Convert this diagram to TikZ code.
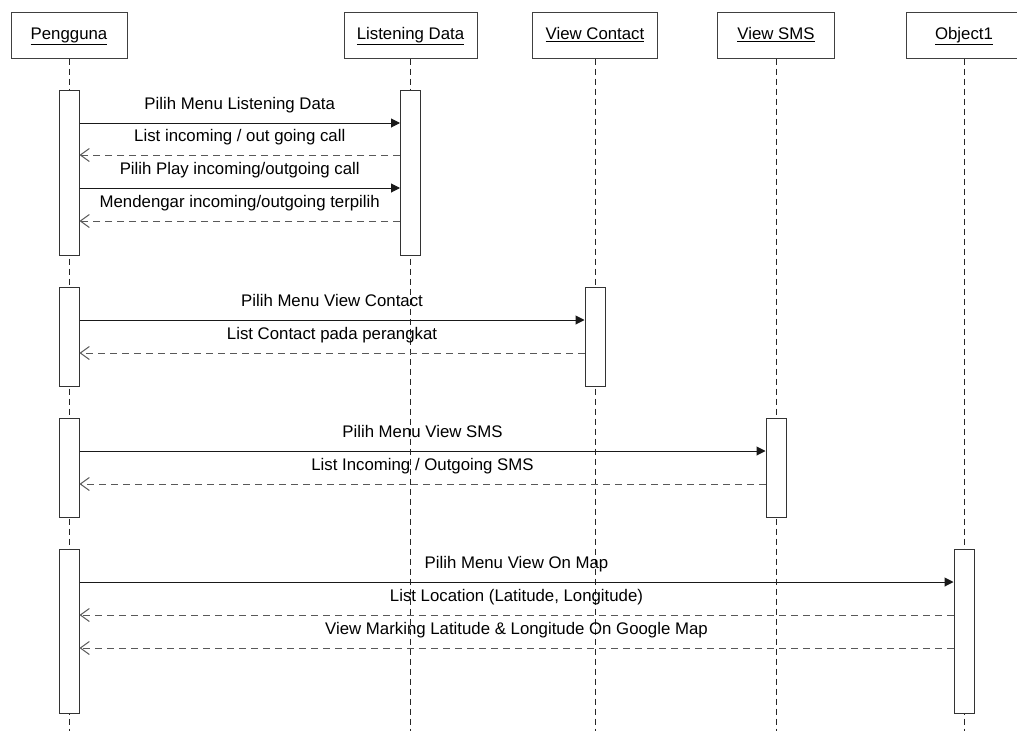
\documentclass[tikz,border=0pt]{standalone}
\usepackage{fontspec}
\setmainfont{Liberation Sans}
\usetikzlibrary{arrows.meta}
\newcommand{\actor}[4] {
    \node[head,minimum width=#3] (#1) at (#2,35) {\underline{#4}};
    \coordinate (#1-end) at (#2,731);
    \draw[lifeline] (#1) -- (#1-end);
}
\newcommand{\activation}[4] {
    \node[actbox,minimum height={#4-#3}]
        (#1) at (#2,{(#3+#4)/2}) {};
}
\newcommand{\callmsg}[4] {
    \draw[sendline] (#1.east |- 0,#3) -- node[msg] {#4} (#2.west |- 0,#3);
}
\newcommand{\replymsg}[4] {
    \draw[backline] (#1.west |- 0,#3) -- node[msg] {#4} (#2.east |- 0,#3);
}
\tikzset{
    head/.style={draw=black!75,line width=1pt,fill=white,minimum height=46,inner sep=0,
        text height=12pt,text depth=3pt},
    lifeline/.style={draw=black!85,line width=1pt,dash pattern=on 6pt off 4pt},
    actbox/.style={draw=black!80,line width=1pt,fill=white,minimum width=20,inner sep=0},
    sendline/.style={draw=black!90,line width=1pt,-{Triangle[length=9pt,width=9pt]}},
    backline/.style={draw=black!65,line width=1pt,dash pattern=on 7pt off 5pt,
        -{Straight Barb[length=9pt,width=13pt]}},
    msg/.style={above=9.5pt,inner sep=0,text height=12pt,text depth=3.5pt,text=black},
}

\begin{document}
\begin{tikzpicture}[x=1pt,y=-1pt,font=\fontsize{16.8}{19}\selectfont]
    \clip (0,0) rectangle (1017,731);
    % objects and lifelines
    \actor{pengguna}{69}{116}{Pengguna}
    \actor{listening}{410.5}{133}{Listening Data}
    \actor{contact}{595}{125}{View Contact}
    \actor{sms}{776}{117}{View SMS}
    \actor{object}{964}{116}{Object1}
    % listening data
    \activation{pa}{69}{90}{255}
    \activation{la}{410.5}{90}{255}
    \callmsg{pa}{la}{123}{Pilih Menu Listening Data}
    \replymsg{la}{pa}{155}{List incoming / out going call}
    \callmsg{pa}{la}{188}{Pilih Play incoming/outgoing call}
    \replymsg{la}{pa}{221}{Mendengar incoming/outgoing terpilih}
    % view contact
    \activation{pb}{69}{287}{386}
    \activation{cb}{595}{287}{386}
    \callmsg{pb}{cb}{320}{Pilih Menu View Contact}
    \replymsg{cb}{pb}{353}{List Contact pada perangkat}
    % view sms
    \activation{pc}{69}{418}{517}
    \activation{sb}{776}{418}{517}
    \callmsg{pc}{sb}{451}{Pilih Menu View SMS}
    \replymsg{sb}{pc}{484}{List Incoming / Outgoing SMS}
    % view on map
    \activation{pd}{69}{549}{713}
    \activation{ob}{964}{549}{713}
    \callmsg{pd}{ob}{582}{Pilih Menu View On Map}
    \replymsg{ob}{pd}{615}{List Location (Latitude, Longitude)}
    \replymsg{ob}{pd}{648}{View Marking Latitude \& Longitude On Google Map}
\end{tikzpicture}
\end{document}
